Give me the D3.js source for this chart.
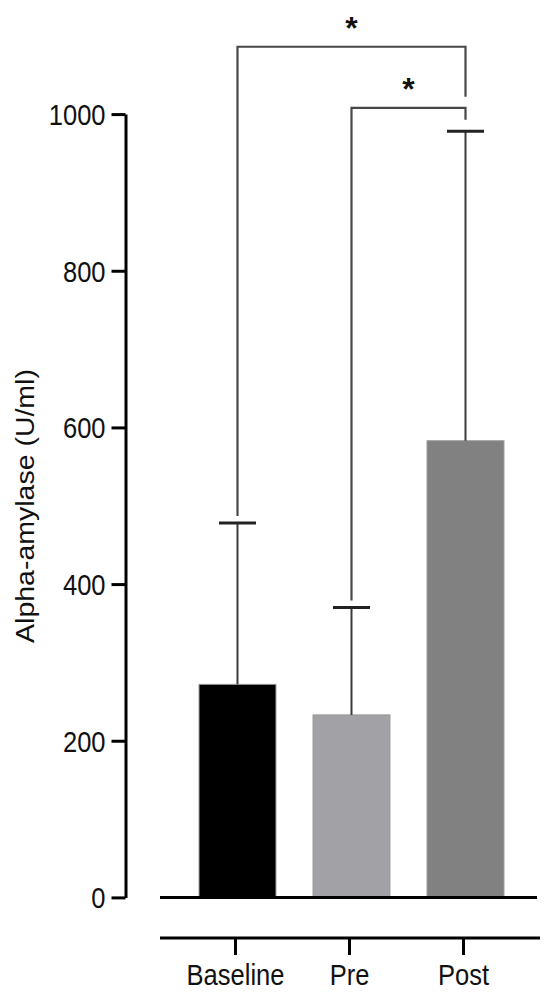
<!DOCTYPE html>
<html>
<head>
<meta charset="utf-8">
<script src="https://cdn.jsdelivr.net/npm/d3@7"></script>
<style>
  html, body { margin: 0; padding: 0; background: #fff; }
  svg { display: block; }
  text { font-family: "Liberation Sans", Arial, sans-serif; fill: #111; }
</style>
</head>
<body>
<script>
// ---- data ----
const categories = ["Baseline", "Pre", "Post"];
const means = [272, 233, 583];
const sds = [206, 137, 395];
const barColors = ["#000000", "#a2a1a5", "#818181"];
const yTicks = [0, 200, 400, 600, 800, 1000];
const yLabel = "Alpha-amylase (U/ml)";
// significance comparisons: [from, to], bracket level (data units), label
const compFrom = ["Baseline", "Pre"];
const compTo = ["Post", "Post"];
const compLevel = [1086, 1008];
const compLabel = ["*", "*"];

const W = 550, H = 994;
const SX = 0.88; // horizontal squash of text seen in the reference
const FS = 29;

const svg = d3.select("body").append("svg").attr("width", W).attr("height", H);

const y = d3.scaleLinear().domain([0, 1000]).range([897.4, 114.1]);
const x = d3.scaleBand().domain(categories).range([180.5, 522.5])
  .paddingInner(0.325).paddingOuter(0.1625);

function squash(sel) {
  sel.each(function() {
    const t = d3.select(this);
    const tx = +t.attr("x") || 0;
    t.attr("transform", `translate(${tx},0) scale(${SX},1) translate(${-tx},0)`);
  });
}

// bars
svg.append("g").selectAll("rect").data(categories).join("rect")
  .attr("x", d => x(d))
  .attr("width", x.bandwidth())
  .attr("y", (d, i) => y(means[i]))
  .attr("height", (d, i) => y(0) - y(means[i]))
  .attr("fill", (d, i) => barColors[i])
  .attr("stroke", "#9a9a9a").attr("stroke-width", 1);

// error bars
const eb = svg.append("g");
categories.forEach((c, i) => {
  const cx = x(c) + x.bandwidth() / 2;
  eb.append("line").attr("x1", cx).attr("x2", cx)
    .attr("y1", y(means[i])).attr("y2", y(means[i] + sds[i]))
    .attr("stroke", "#3a3a3a").attr("stroke-width", 2);
  eb.append("line").attr("x1", cx - 18.5).attr("x2", cx + 18.5)
    .attr("y1", y(means[i] + sds[i])).attr("y2", y(means[i] + sds[i]))
    .attr("stroke", "#222").attr("stroke-width", 3);
});

// significance brackets
const br = svg.append("g");
compFrom.forEach((f, k) => {
  const i1 = categories.indexOf(f), i2 = categories.indexOf(compTo[k]);
  const x1 = x(f) + x.bandwidth() / 2;
  const x2 = x(compTo[k]) + x.bandwidth() / 2;
  const yl = y(compLevel[k]);
  const yEnd1 = y(means[i1] + sds[i1]) - 7;
  // right leg end: just above the cap of the target or the level below
  const yEnd2 = k === 0 ? y(compLevel[1]) - 11 : y(means[i2] + sds[i2]) - 11.5;
  br.append("path")
    .attr("d", `M${x1},${yEnd1}V${yl}H${x2}V${yEnd2}`)
    .attr("fill", "none").attr("stroke", "#474747").attr("stroke-width", 2.2);
  br.append("text")
    .attr("x", (x1 + x2) / 2).attr("y", yl - 24 + 16.5)
    .attr("text-anchor", "middle")
    .style("font-size", "32px").style("font-weight", "bold")
    .text(compLabel[k]);
});

// y axis
const yAxis = svg.append("g").attr("transform", "translate(125.5,0)")
  .call(d3.axisLeft(y).tickValues(yTicks).tickFormat(d3.format("d"))
    .tickSize(14).tickSizeOuter(0).tickPadding(6));
yAxis.select(".domain").attr("stroke", "#000").attr("stroke-width", 3);
yAxis.selectAll(".tick line").attr("stroke", "#000").attr("stroke-width", 3);
yAxis.selectAll(".tick text").style("font-size", FS + "px")
  .attr("font-family", null).attr("fill", "#111").attr("dy", "0.36em").call(squash);

// zero baseline under bars
svg.append("line").attr("x1", 160).attr("x2", 537)
  .attr("y1", y(0)).attr("y2", y(0))
  .attr("stroke", "#000").attr("stroke-width", 3);

// lower x axis
const xAxis = svg.append("g").attr("transform", "translate(0,938)")
  .call(d3.axisBottom(x).tickSize(17).tickSizeOuter(0).tickPadding(10));
xAxis.select(".domain").remove();
xAxis.append("line").attr("x1", 160).attr("x2", 540).attr("y1", 0).attr("y2", 0)
  .attr("stroke", "#000").attr("stroke-width", 3);
xAxis.selectAll(".tick line").attr("stroke", "#000").attr("stroke-width", 3)
  .attr("transform", "translate(-2,0)");
xAxis.selectAll(".tick text").style("font-size", FS + "px")
  .attr("font-family", null).attr("fill", "#111")
  .attr("dy", null).attr("y", 47.5)
  .attr("transform", `translate(-2,0) scale(${SX},1)`);

// y label
svg.append("text")
  .attr("transform", `translate(34,506) scale(${SX},1) rotate(-90)`)
  .attr("text-anchor", "middle")
  .style("font-size", "28.5px")
  .text(yLabel);
</script>
</body>
</html>
